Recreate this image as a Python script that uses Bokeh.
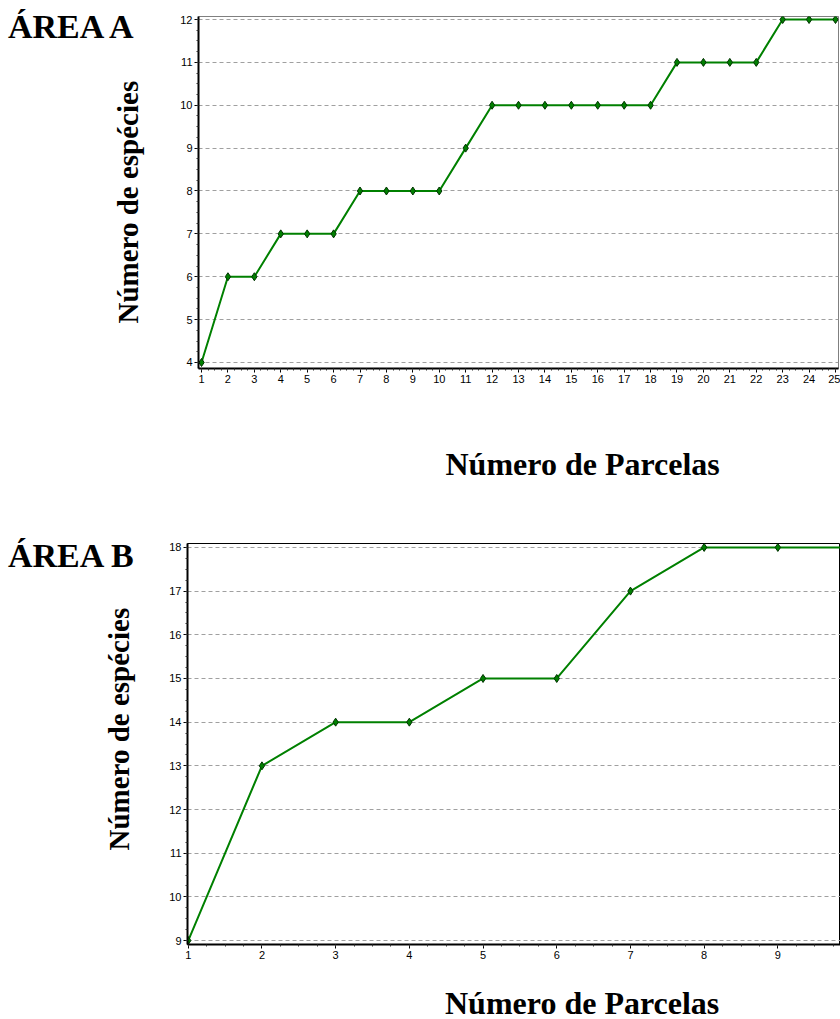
from bokeh.plotting import figure
from bokeh.models import ColumnDataSource, Range1d, SingleIntervalTicker, Title, Div
from bokeh.layouts import column
from bokeh.embed import file_html
from bokeh.resources import INLINE

# ---- data ----
parcelas_a = list(range(1, 26))
especies_a = [4, 6, 6, 7, 7, 7, 8, 8, 8, 8, 9, 10, 10, 10, 10, 10, 10, 10, 11, 11, 11, 11, 12, 12, 12]
parcelas_b = list(range(1, 11))
especies_b = [9, 13, 14, 14, 15, 15, 17, 18, 18, 18]

title_a = "ÁREA A"
title_b = "ÁREA B"
ylabel = "Número de espécies"
xlabel = "Número de Parcelas"

SERIF = "Liberation Serif"
SANS = "Liberation Sans"
GREEN = "#008000"


def make_panel(xs, ys, x_range, y_range, width, height, borders, outline_color,
               y_title_offset, y_title_standoff, x_title=None):
    left, right, top, bottom = borders
    p = figure(width=width, height=height, output_backend="svg", toolbar_location=None,
               x_range=Range1d(*x_range), y_range=Range1d(*y_range),
               min_border_left=left, min_border_right=right,
               min_border_top=top, min_border_bottom=bottom)
    p.outline_line_color = outline_color
    p.outline_line_width = 1
    p.background_fill_color = "white"
    p.border_fill_color = None

    p.xgrid.grid_line_color = None
    p.ygrid.grid_line_color = "#a0a0a0"
    p.ygrid.grid_line_dash = "4 3"
    p.ygrid.grid_line_width = 1

    p.xaxis.ticker = SingleIntervalTicker(interval=1, num_minor_ticks=4)
    p.yaxis.ticker = SingleIntervalTicker(interval=1, num_minor_ticks=4)
    for ax in (p.xaxis, p.yaxis):
        ax.axis_line_color = "black"
        ax.axis_line_width = 2
        ax.major_tick_line_color = "black"
        ax.major_tick_out = 4
        ax.major_tick_in = 0
        ax.minor_tick_line_color = "#333333"
        ax.minor_tick_out = 2
        ax.minor_tick_in = 0
        ax.major_label_text_font = SANS
        ax.major_label_text_font_size = "11px"
        ax.major_label_text_color = "black"
        ax.major_label_standoff = 2

    yt = Title(text=ylabel, align="left", offset=y_title_offset, standoff=y_title_standoff,
               text_font=SERIF, text_font_style="bold", text_font_size="29px",
               text_color="black")
    p.add_layout(yt, "left")
    if x_title is not None:
        x_off, x_standoff = x_title
        xt = Title(text=xlabel, align="left", offset=x_off, standoff=x_standoff,
                   text_font=SERIF, text_font_style="bold", text_font_size="32px",
                   text_color="black")
        p.add_layout(xt, "below")

    src = ColumnDataSource(dict(x=xs, y=ys))
    p.line("x", "y", source=src, line_color=GREEN, line_width=2)
    p.scatter("x", "y", source=src, marker="diamond", size=8,
              fill_color=GREEN, line_color="#003300", line_width=1)
    return p


def text_div(text, size, margin, width, height):
    return Div(text=f'<span style="font-family:\'{SERIF}\';font-weight:bold;font-size:{size}px;'
                    f'line-height:1;color:black;white-space:nowrap">{text}</span>',
               width=width, height=height, margin=margin)


p1 = make_panel(parcelas_a, especies_a, (0.886, 25.114), (3.86, 12.07),
                840, 540, (198, 2, 16, 172), "#808080", 45, 68, x_title=(247, 116))
p2 = make_panel(parcelas_b, especies_b, (0.99, 9.85), (8.91, 18.09),
                840, 479, (187, 0, 3, 75), "black", 94, 64)

root_a = column(text_div(title_a, 34, (10, 0, -50, 8), 170, 40), p1, spacing=0)
root_b = column(text_div(title_b, 34, (-1, 0, -39, 8), 170, 40), p2,
                text_div(xlabel, 32, (-32, 0, 0, 445), 400, 32), spacing=0)

open("out.html", "w").write(file_html([root_a, root_b], INLINE))
